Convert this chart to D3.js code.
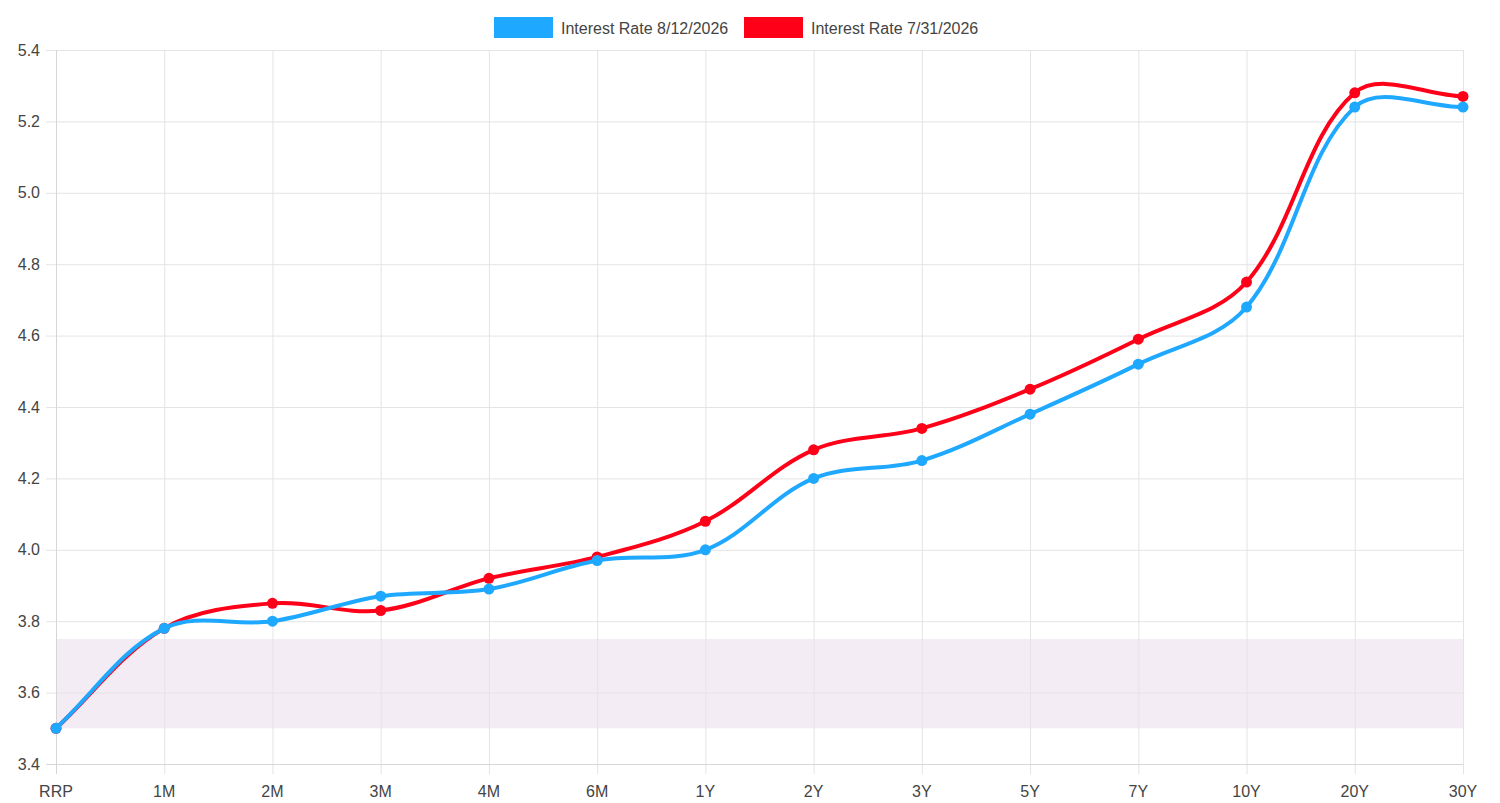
<!DOCTYPE html>
<html>
<head>
<meta charset="utf-8">
<script src="https://cdn.jsdelivr.net/npm/d3@7"></script>
<style>
  html, body { margin: 0; padding: 0; background: #fff; }
  svg text { font-family: "Liberation Sans", Arial, Helvetica, sans-serif; }
</style>
</head>
<body>
<div id="chart"></div>
<script>
// tenor labels along the x axis
const tenors = ["RRP", "1M", "2M", "3M", "4M", "6M", "1Y", "2Y", "3Y", "5Y", "7Y", "10Y", "20Y", "30Y"];
// rates
const rates0812 = [3.50, 3.78, 3.80, 3.87, 3.89, 3.97, 4.00, 4.20, 4.25, 4.38, 4.52, 4.68, 5.24, 5.24];
const rates0731 = [3.50, 3.78, 3.85, 3.83, 3.92, 3.98, 4.08, 4.28, 4.34, 4.45, 4.59, 4.75, 5.28, 5.27];
const seriesNames = ["Interest Rate 8/12/2026", "Interest Rate 7/31/2026"];
const yTicks = [3.4, 3.6, 3.8, 4.0, 4.2, 4.4, 4.6, 4.8, 5.0, 5.2, 5.4];
const band = [3.5, 3.75];

const W = 1500, H = 803;
const margin = { top: 50, right: 37, bottom: 39, left: 56 };
const blue = "#1fa8ff", red = "#ff0019";
const gridColor = "#e4e4e4", textColor = "#444";

const svg = d3.select("#chart").append("svg")
  .attr("width", W).attr("height", H);

const x = d3.scalePoint().domain(tenors).range([margin.left, W - margin.right]);
const y = d3.scaleLinear().domain([3.4, 5.4]).range([H - margin.bottom, margin.top]);

// shaded band
svg.append("rect")
  .attr("x", margin.left)
  .attr("width", W - margin.right - margin.left)
  .attr("y", y(band[1]))
  .attr("height", y(band[0]) - y(band[1]))
  .attr("fill", "#f3ecf4");

// grid lines (with tick marks sticking out)
const grid = svg.append("g").attr("stroke", gridColor).attr("stroke-width", 1);
grid.selectAll(".hy").data(yTicks).enter().append("line")
  .attr("x1", margin.left - 10).attr("x2", W - margin.right)
  .attr("y1", d => y(d) + 0.5).attr("y2", d => y(d) + 0.5);
grid.selectAll(".vx").data(tenors).enter().append("line")
  .attr("x1", d => x(d) + 0.5).attr("x2", d => x(d) + 0.5)
  .attr("y1", margin.top).attr("y2", H - margin.bottom + 10);
// axis lines slightly darker
svg.append("line")
  .attr("x1", margin.left + 0.5).attr("x2", margin.left + 0.5)
  .attr("y1", margin.top).attr("y2", H - margin.bottom + 10)
  .attr("stroke", "#d6d6d6");
svg.append("line")
  .attr("x1", margin.left - 10).attr("x2", W - margin.right)
  .attr("y1", H - margin.bottom + 0.5).attr("y2", H - margin.bottom + 0.5)
  .attr("stroke", "#d6d6d6");

// tick labels
svg.append("g").selectAll("text").data(yTicks).enter().append("text")
  .attr("x", margin.left - 16)
  .attr("y", d => y(d))
  .attr("dy", "0.35em")
  .attr("text-anchor", "end")
  .attr("font-size", 16)
  .attr("fill", textColor)
  .text(d => d.toFixed(1));
svg.append("g").selectAll("text").data(tenors).enter().append("text")
  .attr("x", d => x(d))
  .attr("y", H - margin.bottom + 33)
  .attr("text-anchor", "middle")
  .attr("font-size", 16)
  .attr("fill", textColor)
  .text(d => d);

/* Chart.js style spline: control points weighted by segment length */
function splinePath(pts, t) {
  const cps = pts.map(function (p, i) {
    const prev = pts[i - 1] || p;
    const next = pts[i + 1] || p;
    const d01 = Math.hypot(p[0] - prev[0], p[1] - prev[1]);
    const d12 = Math.hypot(next[0] - p[0], next[1] - p[1]);
    let s01 = d01 / (d01 + d12), s12 = d12 / (d01 + d12);
    if (isNaN(s01)) s01 = 0;
    if (isNaN(s12)) s12 = 0;
    const fa = t * s01, fb = t * s12;
    return {
      prev: [p[0] - fa * (next[0] - prev[0]), p[1] - fa * (next[1] - prev[1])],
      next: [p[0] + fb * (next[0] - prev[0]), p[1] + fb * (next[1] - prev[1])]
    };
  });
  const path = d3.path();
  path.moveTo(pts[0][0], pts[0][1]);
  for (let i = 1; i < pts.length; i++) {
    path.bezierCurveTo(cps[i - 1].next[0], cps[i - 1].next[1],
      cps[i].prev[0], cps[i].prev[1], pts[i][0], pts[i][1]);
  }
  return path.toString();
}

function drawSeries(values, color) {
  const pts = values.map((v, i) => [x(tenors[i]), y(v)]);
  const g = svg.append("g");
  g.append("path")
    .attr("d", splinePath(pts, 0.35))
    .attr("fill", "none")
    .attr("stroke", color)
    .attr("stroke-width", 4);
  g.selectAll("circle").data(pts).enter().append("circle")
    .attr("cx", d => d[0]).attr("cy", d => d[1])
    .attr("r", 5.5)
    .attr("fill", color);
}

// red first so blue sits on top
drawSeries(rates0731, red);
drawSeries(rates0812, blue);

// legend
const legend = svg.append("g");
const legendItems = [
  { name: seriesNames[0], color: blue, x: 494 },
  { name: seriesNames[1], color: red, x: 744 }
];
legendItems.forEach(function (d) {
  legend.append("rect")
    .attr("x", d.x).attr("y", 17)
    .attr("width", 59).attr("height", 21)
    .attr("fill", d.color);
  legend.append("text")
    .attr("x", d.x + 67).attr("y", 28)
    .attr("dy", "0.35em")
    .attr("font-size", 16)
    .attr("fill", textColor)
    .text(d.name);
});
</script>
</body>
</html>
